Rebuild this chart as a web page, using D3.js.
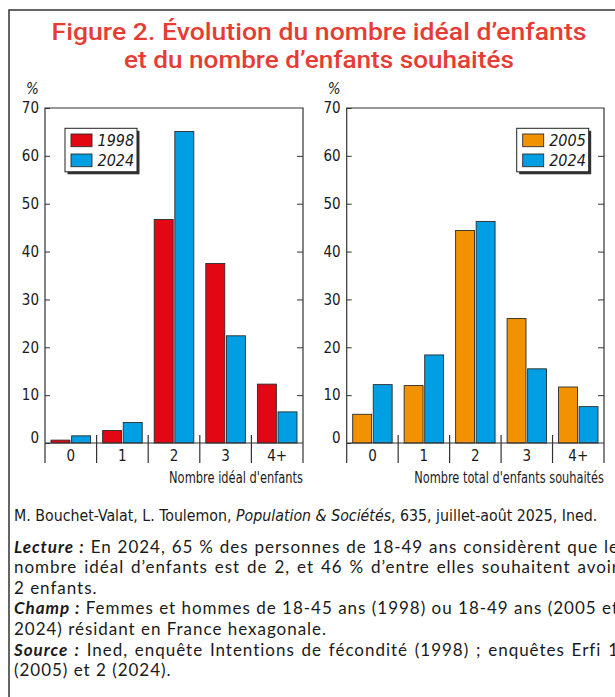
<!DOCTYPE html>
<meta charset="utf-8">
<script src="https://cdn.jsdelivr.net/npm/d3@7"></script>
<style>
  body { margin: 0; background: #fff; }
  svg { display: block; }
</style>
<div id="chart"></div>
<script>
// values, in %
var categories = ["0", "1", "2", "3", "4+"];
var ideal1998 = [0.6, 2.6, 46.7, 37.5, 12.3];
var ideal2024 = [1.5, 4.3, 65.1, 22.4, 6.5];
var wanted2005 = [6.0, 12.0, 44.4, 26.0, 11.7];
var wanted2024 = [12.2, 18.4, 46.3, 15.5, 7.6];
var yTicks = [0, 10, 20, 30, 40, 50, 60, 70];

var titleLines = ["Figure 2. Évolution du nombre idéal d’enfants",
                  "et du nombre d’enfants souhaités"];
var titleWidths = [535, 390];

var red = "#e30613", blue = "#009fe3", orange = "#f39200";
var cond = "'Liberation Sans Narrow', 'DejaVu Sans Condensed', sans-serif";
var body = "Lato, 'Open Sans', sans-serif";

var W = 615, H = 697;
var svg = d3.select("#chart").append("svg")
    .attr("width", W)
    .attr("height", H);

// outer frame (cut by the window on the right and bottom)
svg.append("path")
    .attr("d", "M9," + H + "V10H" + W)
    .attr("fill", "none")
    .attr("stroke", "#333")
    .attr("stroke-width", 1.5);

// scale a text horizontally to a given width
function fitWidth(sel, width, anchorX, baseY, anchor, shrinkOnly) {
  var w = sel.node().getComputedTextLength();
  var sx = width / w;
  if (shrinkOnly) sx = Math.min(1, sx);
  sel.attr("x", 0).attr("y", 0)
     .attr("text-anchor", anchor)
     .attr("transform", "translate(" + anchorX + "," + baseY + ") scale(" + sx + ",1)");
}

// title
titleLines.forEach(function(line, i) {
  var t = svg.append("text")
      .attr("class", "title")
      .style("font-family", "Roboto, sans-serif")
      .style("font-weight", 500)
      .style("font-size", "24px")
      .style("fill", "#e63c34")
      .text(line);
  fitWidth(t, titleWidths[i], 319, 39.5 + i * 28.5, "middle", false);
});

var panels = [
  {left: 45, right: 303, xLabel: "Nombre idéal d'enfants", xLabelWidth: 134, legendRight: false,
   series: [{name: "1998", values: ideal1998, color: red}, {name: "2024", values: ideal2024, color: blue}]},
  {left: 346.7, right: 604, xLabel: "Nombre total d'enfants souhaités", xLabelWidth: 190, legendRight: true,
   series: [{name: "2005", values: wanted2005, color: orange}, {name: "2024", values: wanted2024, color: blue}]}
];

var y = d3.scaleLinear().domain([0, 70]).range([443, 108]);

panels.forEach(function(p) {
  var g = svg.append("g");

  var x = d3.scaleBand().domain(categories).range([p.left, p.right]);
  var x1 = d3.scaleBand().domain([0, 1])
      .range([6, x.bandwidth() - 6])
      .paddingInner(0.08);

  // bars
  p.series.forEach(function(s, si) {
    g.selectAll(".bar" + si)
        .data(s.values)
        .enter().append("rect")
        .attr("x", function(d, i) { return x(categories[i]) + x1(si); })
        .attr("y", function(d) { return y(d); })
        .attr("width", x1.bandwidth())
        .attr("height", function(d) { return y(0) - y(d); })
        .style("fill", s.color)
        .style("stroke", "#2b2b2b")
        .style("stroke-width", 0.9);
  });

  // left axis, ticks inside
  var yAxis = g.append("g")
      .attr("transform", "translate(" + p.left + ",0)")
      .call(d3.axisLeft(y).tickValues(yTicks).tickSize(-5).tickSizeOuter(0).tickPadding(6));
  yAxis.select(".domain").remove();
  yAxis.selectAll("text")
      .style("font-family", cond)
      .style("font-size", "15px")
      .style("fill", "#1a1a1a")
      .attr("dy", function(d) { return d === 0 ? "-0.05em" : "0.32em"; });
  yAxis.selectAll("line").style("stroke", "#333");

  // right ticks
  var yRight = g.append("g")
      .attr("transform", "translate(" + p.right + ",0)")
      .call(d3.axisRight(y).tickValues(yTicks.slice(1, 7)).tickSize(-6).tickFormat(""));
  yRight.select(".domain").remove();
  yRight.selectAll("line").style("stroke", "#333");

  // "%" unit
  g.append("text")
      .attr("x", p.left - 19)
      .attr("y", 94)
      .style("font-family", cond)
      .style("font-style", "italic")
      .style("font-size", "15px")
      .style("fill", "#1a1a1a")
      .text("%");

  // frame: top, left and right sides down to the category separators
  g.append("path")
      .attr("d", "M" + p.left + ",463V108H" + p.right + "V463")
      .attr("fill", "none")
      .attr("stroke", "#333")
      .attr("stroke-width", 1.2);

  // zero line
  g.append("line")
      .attr("x1", p.left).attr("x2", p.right)
      .attr("y1", y(0)).attr("y2", y(0))
      .attr("stroke", "#333")
      .attr("stroke-width", 1.2);

  // category separators
  g.selectAll(".sep")
      .data(categories.slice(1))
      .enter().append("line")
      .attr("x1", function(d) { return x(d); })
      .attr("x2", function(d) { return x(d); })
      .attr("y1", 435).attr("y2", 463)
      .attr("stroke", "#333")
      .attr("stroke-width", 1.2);

  // category labels
  var xAxis = g.append("g")
      .attr("transform", "translate(0," + y(0) + ")")
      .call(d3.axisBottom(x).tickSize(0).tickPadding(7));
  xAxis.select(".domain").remove();
  xAxis.selectAll("text")
      .style("font-family", cond)
      .style("font-size", "15px")
      .style("fill", "#1a1a1a");

  // axis title
  var xt = g.append("text")
      .style("font-family", cond)
      .style("font-size", "16px")
      .style("fill", "#1a1a1a")
      .text(p.xLabel);
  fitWidth(xt, p.xLabelWidth, p.right, 483, "end", true);

  // legend
  var lw = 72, lh = 43.5;
  var lx = p.legendRight ? p.right - 15.3 - lw : p.left + 20;
  var ly = 128.3;
  var leg = g.append("g").attr("transform", "translate(" + lx + "," + ly + ")");
  leg.append("rect")
      .attr("x", 2.5).attr("y", 2.5)
      .attr("width", lw).attr("height", lh)
      .style("fill", "#333");
  leg.append("rect")
      .attr("width", lw).attr("height", lh)
      .style("fill", "#fff")
      .style("stroke", "#222")
      .style("stroke-width", 1);
  var items = leg.selectAll(".item")
      .data(p.series)
      .enter().append("g")
      .attr("transform", function(d, i) { return "translate(6," + (5.7 + i * 20) + ")"; });
  items.append("rect")
      .attr("width", 21).attr("height", 12.7)
      .style("fill", function(d) { return d.color; })
      .style("stroke", "#2b2b2b")
      .style("stroke-width", 0.9);
  items.append("text")
      .attr("x", 26.5)
      .attr("y", 11.5)
      .style("font-family", cond)
      .style("font-style", "italic")
      .style("font-size", "16px")
      .style("fill", "#1a1a1a")
      .text(function(d) { return d.name; });
});

// citation line
var cite = svg.append("text")
    .style("font-family", cond)
    .style("font-size", "16px")
    .style("fill", "#1a1a1a");
cite.append("tspan").text("M. Bouchet-Valat, L. Toulemon, ");
cite.append("tspan").style("font-style", "italic").text("Population & Sociétés");
cite.append("tspan").text(", 635, juillet-août 2025, Ined.");
fitWidth(cite, 584, 14, 521, "start", true);

// notes, justified lines get extra word spacing
var notes = [
  {lead: "Lecture :", text: " En 2024, 65 % des personnes de 18-49 ans considèrent que le", justify: true},
  {lead: "", text: "nombre idéal d’enfants est de 2, et 46 % d’entre elles souhaitent avoir", justify: true},
  {lead: "", text: "2 enfants.", justify: false},
  {lead: "Champ :", text: " Femmes et hommes de 18-45 ans (1998) ou 18-49 ans (2005 et", justify: true},
  {lead: "", text: "2024) résidant en France hexagonale.", justify: false},
  {lead: "Source :", text: " Ined, enquête Intentions de fécondité (1998) ; enquêtes Erfi 1", justify: true},
  {lead: "", text: "(2005) et 2 (2024).", justify: false}
];
var lineRight = 619;

// tracking taken from a plain line whose width is known (ends near x = 327)
var probe = svg.append("text")
    .style("font-family", body)
    .style("font-size", "17px")
    .text(notes[4].text);
var probeW = probe.node().getComputedTextLength();
probe.remove();
var tracking = Math.max(0, (313 - probeW) / notes[4].text.length);

notes.forEach(function(n, i) {
  var t = svg.append("text")
      .attr("x", 14)
      .attr("y", 552.5 + i * 20.6)
      .style("font-family", body)
      .style("font-size", "17px")
      .style("letter-spacing", tracking + "px")
      .style("fill", "#1a1a1a");
  if (n.lead) {
    t.append("tspan")
        .style("font-weight", "bold")
        .style("font-style", "italic")
        .text(n.lead);
  }
  t.append("tspan").text(n.text);
  if (n.justify) {
    var w = t.node().getComputedTextLength();
    var full = n.lead + n.text;
    var spaces = full.split(" ").length - 1;
    t.style("word-spacing", Math.max(0, (lineRight - 14 - w) / spaces) + "px");
  }
});
</script>
